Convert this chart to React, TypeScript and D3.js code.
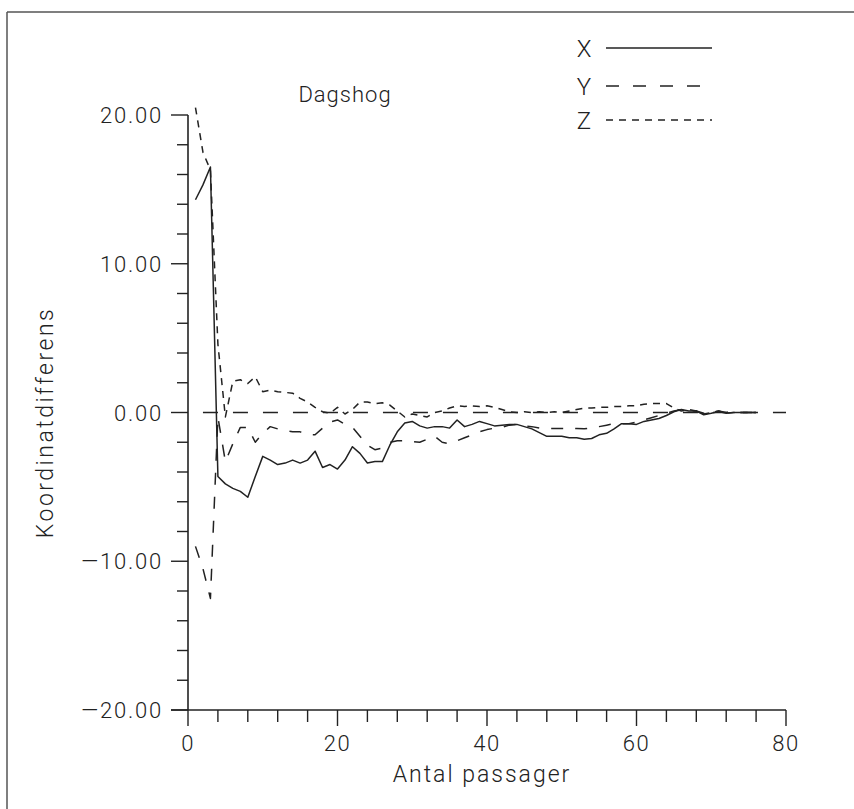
import React from "react";
import * as d3 from "d3";

const passes = d3.range(1, 77);
const seriesX = [14.3, 15.3, 16.5, -4.3, -4.8, -5.1, -5.3, -5.7, -4.3, -2.95,
  -3.2, -3.5, -3.4, -3.2, -3.4, -3.2, -2.6, -3.7, -3.5, -3.8,
  -3.2, -2.3, -2.75, -3.4, -3.3, -3.3, -2.2, -1.3, -0.7, -0.6,
  -0.9, -1.05, -0.95, -0.95, -1.05, -0.5, -0.95, -0.8, -0.6, -0.75,
  -0.9, -0.85, -0.8, -0.8, -0.95, -1.1, -1.35, -1.6, -1.6, -1.6,
  -1.7, -1.7, -1.8, -1.75, -1.5, -1.4, -1.1, -0.75, -0.75, -0.8,
  -0.6, -0.5, -0.4, -0.2, 0.05, 0.2, 0.1, 0.1, -0.15, -0.05,
  0.07, -0.05, 0, 0, 0, 0];
const seriesY = [-9.0, -10.5, -12.5, -0.3, -3.3, -2.1, -1.0, -1.0, -2.0, -1.4,
  -0.95, -1.1, -1.2, -1.3, -1.3, -1.5, -1.5, -1.05, -0.65, -0.5,
  -0.8, -1.0, -1.6, -2.2, -2.5, -2.4, -2.0, -1.9, -1.9, -1.95,
  -2.0, -1.8, -1.6, -2.0, -2.1, -1.9, -1.7, -1.5, -1.3, -1.15,
  -1.05, -1.0, -0.85, -0.8, -0.9, -0.95, -1.05, -1.07, -1.07, -1.07,
  -1.07, -1.07, -1.1, -1.05, -0.95, -0.85, -0.75, -0.75, -0.75, -0.65,
  -0.5, -0.35, -0.2, -0.05, 0.1, 0.2, 0.15, 0.1, -0.05, 0,
  0.1, 0, 0.05, 0, 0, 0];
const seriesZ = [20.5, 17.5, 16.3, 4.6, -0.3, 2.1, 2.2, 1.95, 2.4, 1.4,
  1.5, 1.4, 1.35, 1.3, 0.95, 0.7, 0.35, 0.05, -0.05, 0.35,
  -0.1, 0.2, 0.7, 0.7, 0.6, 0.65, 0.5, 0.1, -0.3, -0.1,
  -0.2, -0.3, 0.0, 0.1, 0.3, 0.45, 0.4, 0.45, 0.4, 0.45,
  0.35, 0.2, 0.05, 0, 0.05, 0, 0.05, 0, 0.05, 0,
  0.1, 0.2, 0.3, 0.3, 0.35, 0.35, 0.4, 0.4, 0.45, 0.45,
  0.55, 0.6, 0.6, 0.6, 0.3, 0.1, 0.2, 0.1, -0.1, 0,
  0.1, -0.05, 0, 0, 0, 0];

const seriesNames = ["X", "Y", "Z"];
const xTickLabels = [0, 20, 40, 60, 80];
const yTickLabels = [-20, -10, 0, 10, 20];
const title = "Dagshog";
const xTitle = "Antal passager";
const yTitle = "Koordinatdifferens";

const FONT = "Roboto, 'DejaVu Sans', sans-serif";
const INK = "#222";

export default function App() {
  const x = d3.scaleLinear().domain([0, 80]).range([188, 786]);
  const y = d3.scaleLinear().domain([-20, 20]).range([710, 115]);
  const line = d3
    .line<number>()
    .x((_, i) => x(passes[i]))
    .y((d) => y(d));

  const dashes = ["none", "12 12", "7 6"];
  const allSeries = [seriesX, seriesY, seriesZ];
  const fmt = (v: number) => {
    const s = d3.format(".2f")(Math.abs(v));
    return v < 0 ? "\u2014" + s : s;
  };

  const xMinor = d3.range(0, 81, 4);
  const yMinor = d3.range(-20, 21, 2);

  return (
    <svg width={854} height={809} style={{ position: "absolute", left: 0, top: 0, background: "#fff" }}>
      <rect x={0} y={0} width={854} height={809} fill="#fff" />
      {/* frame */}
      <line x1={7} y1={12} x2={854} y2={12} stroke="#555" strokeWidth={1.5} />
      <line x1={7} y1={12} x2={7} y2={809} stroke="#555" strokeWidth={1.5} />

      {/* axes */}
      <line x1={x(0)} y1={y(20)} x2={x(0)} y2={y(-20)} stroke={INK} strokeWidth={1.6} />
      <line x1={x(0) - 17} y1={y(-20)} x2={x(80)} y2={y(-20)} stroke={INK} strokeWidth={1.6} />
      {yMinor.map((v) => {
        const major = v % 10 === 0;
        return (
          <line key={"yt" + v} x1={x(0) - (major ? 17 : 11)} x2={x(0)} y1={y(v)} y2={y(v)} stroke={INK} strokeWidth={1.4} />
        );
      })}
      {xMinor.map((v) => {
        const major = v % 20 === 0;
        return (
          <line key={"xt" + v} x1={x(v)} x2={x(v)} y1={y(-20)} y2={y(-20) + (major ? 16 : 12)} stroke={INK} strokeWidth={1.4} />
        );
      })}
      {yTickLabels.map((v) => (
        <text key={"yl" + v} x={163} y={y(v) + 8} textAnchor="end" fontFamily={FONT} fontWeight={300} fontSize={22} fill={INK} letterSpacing={1.8}>
          {fmt(v)}
        </text>
      ))}
      {xTickLabels.map((v) => (
        <text key={"xl" + v} x={x(v)} y={751} textAnchor="middle" fontFamily={FONT} fontWeight={300} fontSize={22} fill={INK} letterSpacing={1.5}>
          {v}
        </text>
      ))}
      <text x={482} y={782} textAnchor="middle" fontFamily={FONT} fontWeight={300} fontSize={23} fill={INK} letterSpacing={2}>
        {xTitle}
      </text>
      <text transform={`translate(53,${y(0) + 10}) rotate(-90)`} textAnchor="middle" fontFamily={FONT} fontWeight={300} fontSize={23} fill={INK} letterSpacing={2.5}>
        {yTitle}
      </text>
      <text x={345} y={102} textAnchor="middle" fontFamily={FONT} fontWeight={300} fontSize={22} fill={INK} letterSpacing={1}>
        {title}
      </text>

      {/* zero reference line */}
      <line x1={x(2)} x2={x(80)} y1={y(0)} y2={y(0)} stroke={INK} strokeWidth={1.5} strokeDasharray="15 15" />

      {/* series */}
      {allSeries.map((s, i) => (
        <path key={"s" + i} d={line(s) || ""} fill="none" stroke={INK} strokeWidth={1.5} strokeDasharray={dashes[i] === "none" ? undefined : dashes[i]} strokeLinejoin="round" />
      ))}

      {/* legend */}
      {seriesNames.map((n, i) => {
        const ly = [48, 86, 120][i];
        return (
          <g key={"lg" + n}>
            <text x={584} y={ly + 9} textAnchor="middle" fontFamily={FONT} fontWeight={300} fontSize={24} fill={INK}>
              {n}
            </text>
            <line x1={606} x2={i === 1 ? 702 : 712} y1={ly} y2={ly} stroke={INK} strokeWidth={1.5} strokeDasharray={i === 0 ? undefined : i === 1 ? "13 14" : "7 6"} />
          </g>
        );
      })}
    </svg>
  );
}
